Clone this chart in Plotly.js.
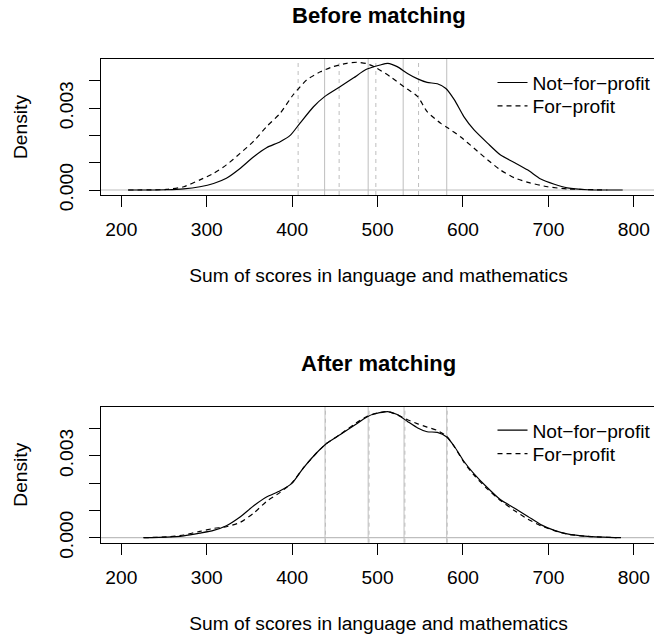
<!DOCTYPE html>
<html>
<head>
<meta charset="utf-8">
<script src="https://cdn.plot.ly/plotly-3.0.1.min.js"></script>
<style>
html,body{margin:0;padding:0;overflow:hidden;background:#fff;}
#chart{width:656px;height:641px;}
</style>
</head>
<body>
<div id="chart"></div>
<script>
// ---- data ----
const seriesNames = ['Not\u2212for\u2212profit', 'For\u2212profit'];
const panelTitles = ['Before matching', 'After matching'];
const xTitle = 'Sum of scores in language and mathematics';
const yTitle = 'Density';
const xTickVals = [200, 300, 400, 500, 600, 700, 800];
const yTickVals = [0, 0.001, 0.002, 0.003, 0.004];
const yTickText = ['0.000', '', '', '0.003', ''];

const beforeNfpX = [208, 253, 273, 292, 308, 323, 339, 355, 370, 386, 398, 409, 425, 438, 456, 472, 487, 503, 512, 523, 535, 547, 558, 570, 580, 590, 601, 613, 629, 644, 660, 676, 691, 707, 722, 746, 787];
const beforeNfpY = [0, 0.00001, 0.00004, 0.00012, 0.00024, 0.00043, 0.00079, 0.00122, 0.00155, 0.00177, 0.00201, 0.00244, 0.00305, 0.00342, 0.00378, 0.00411, 0.00442, 0.00458, 0.00464, 0.00452, 0.00427, 0.00407, 0.00394, 0.00389, 0.00372, 0.0033, 0.00269, 0.0022, 0.00171, 0.00128, 0.00101, 0.00073, 0.0004, 0.00021, 0.00008, 0.00001, 0];

const beforeFpX = [208, 253, 273, 292, 308, 323, 339, 355, 370, 386, 401, 417, 433, 448, 464, 476, 487, 497, 515, 531, 547, 558, 574, 582, 597, 613, 629, 644, 660, 676, 699, 722, 769];
const beforeFpY = [0, 0.00002, 0.00012, 0.00037, 0.00061, 0.00092, 0.00134, 0.00179, 0.00232, 0.00281, 0.00348, 0.00403, 0.00433, 0.00452, 0.00464, 0.00468, 0.00463, 0.0045, 0.00415, 0.00378, 0.00342, 0.00287, 0.00244, 0.00228, 0.00195, 0.00153, 0.0011, 0.00073, 0.00045, 0.00028, 0.00012, 0.00004, 0];

const afterNfpX = [226, 253, 273, 292, 308, 323, 339, 355, 370, 386, 400, 413, 429, 441, 456, 472, 487, 496, 501, 512, 523, 535, 547, 558, 570, 581, 590, 601, 613, 629, 644, 660, 676, 691, 707, 722, 746, 785];
const afterNfpY = [0, 0.00002, 0.00007, 0.00017, 0.00027, 0.00044, 0.00076, 0.00117, 0.00149, 0.00172, 0.002, 0.00255, 0.00312, 0.00347, 0.00377, 0.0041, 0.00441, 0.00454, 0.00457, 0.00462, 0.00451, 0.00426, 0.00402, 0.00388, 0.00386, 0.00369, 0.00334, 0.0028, 0.00234, 0.00182, 0.00139, 0.00109, 0.00078, 0.00048, 0.00027, 0.00014, 0.00005, 0];

const afterFpX = [226, 253, 273, 292, 308, 323, 339, 355, 370, 386, 400, 413, 429, 441, 456, 472, 487, 501, 512, 523, 535, 547, 558, 570, 581, 590, 601, 613, 629, 644, 660, 676, 691, 707, 722, 746, 780];
const afterFpY = [0, 0.00003, 0.0001, 0.00023, 0.00034, 0.0004, 0.00056, 0.0009, 0.00133, 0.00166, 0.00202, 0.00255, 0.00312, 0.00347, 0.00378, 0.00414, 0.00443, 0.00458, 0.00462, 0.0045, 0.00432, 0.00417, 0.00405, 0.00393, 0.00371, 0.00333, 0.00277, 0.00229, 0.00177, 0.00136, 0.001, 0.00068, 0.00044, 0.00026, 0.00013, 0.00005, 0];

const beforeNfpQuant = [438, 489, 530, 581];
const beforeFpQuant = [407, 455, 498, 548];
const afterNfpQuant = [438.5, 489, 531, 581];
const afterFpQuant = [439, 490, 532, 581.5];

// ---- styles ----
const FONT = 'Liberation Sans, Arial, Helvetica, sans-serif';
const FS = 19.2;
const lineSolid = {color: '#000', width: 1.2, dash: 'solid', shape: 'spline', smoothing: 0.6};
const lineDash = {color: '#000', width: 1.2, dash: '5px,4px', shape: 'spline', smoothing: 0.6};

function trace(x, y, name, line, xa, ya, leg) {
  return {x: x, y: y, name: name, type: 'scatter', mode: 'lines', line: line,
          xaxis: xa, yaxis: ya, legend: leg, hoverinfo: 'skip'};
}

const data = [
  trace(beforeNfpX, beforeNfpY, seriesNames[0], lineSolid, 'x', 'y', 'legend'),
  trace(beforeFpX, beforeFpY, seriesNames[1], lineDash, 'x', 'y', 'legend2'),
  trace(afterNfpX, afterNfpY, seriesNames[0], lineSolid, 'x2', 'y2', 'legend3'),
  trace(afterFpX, afterFpY, seriesNames[1], lineDash, 'x2', 'y2', 'legend4')
];

const shapes = [];
function vlines(vals, xref, yref, dash) {
  vals.forEach(v => shapes.push({type: 'line', xref: xref, yref: yref + ' domain', x0: v, x1: v, y0: 0, y1: 1,
    layer: 'below', line: {color: '#BEBEBE', width: 1, dash: dash}}));
}
function hzero(xref, yref) {
  shapes.push({type: 'line', xref: xref + ' domain', yref: yref, x0: 0, x1: 1, y0: 0, y1: 0,
    layer: 'below', line: {color: '#BEBEBE', width: 1.2}});
}
hzero('x', 'y'); hzero('x2', 'y2');
vlines(beforeNfpQuant, 'x', 'y', 'solid');
vlines(beforeFpQuant, 'x', 'y', '4px,4px');
vlines(afterNfpQuant, 'x2', 'y2', 'solid');
vlines(afterFpQuant, 'x2', 'y2', '4px,4px');

const H = 641;
const W = 656;
const ML = 101;
const xRange = [176.2, 826];
const yRange = [-0.000183, 0.0047985];

function xaxis(anchor) {
  return {anchor: anchor, range: xRange, tickvals: xTickVals, ticks: 'outside', ticklen: 11, tickwidth: 1,
    tickcolor: '#000', showline: true, mirror: true, linecolor: '#000', linewidth: 1, showgrid: false,
    zeroline: false, ticklabelstandoff: 6, tickfont: {family: FONT, size: FS, color: '#000'},
    title: {text: xTitle, standoff: 29, font: {family: FONT, size: FS, color: '#000'}}};
}
function yaxis(anchor, d0, d1) {
  return {anchor: anchor, domain: [1 - d1 / H, 1 - d0 / H], range: yRange, tickvals: yTickVals, ticktext: yTickText,
    tickangle: -90, ticks: 'outside', ticklen: 11, tickwidth: 1, tickcolor: '#000', showline: true, mirror: true,
    linecolor: '#000', linewidth: 1, showgrid: false, zeroline: false, ticklabelstandoff: 8,
    tickfont: {family: FONT, size: FS, color: '#000'},
    title: {text: yTitle, standoff: 23, font: {family: FONT, size: FS, color: '#000'}}};
}

function legend(ytop) {
  return {x: (492.5 - ML) / (W - ML), xanchor: 'left', y: 1 - ytop / H, yanchor: 'top',
    bgcolor: 'rgba(0,0,0,0)', borderwidth: 0, font: {family: FONT, size: FS, color: '#000'},
    tracegroupgap: 0, itemclick: false, itemdoubleclick: false};
}

const layout = {
  width: W, height: H,
  margin: {l: ML, r: 0, t: 0, b: 0},
  paper_bgcolor: '#fff', plot_bgcolor: '#fff',
  font: {family: FONT, size: FS, color: '#000'},
  xaxis: xaxis('y'),
  yaxis: yaxis('x', 59, 195),
  xaxis2: xaxis('y2'),
  yaxis2: yaxis('x2', 406.7, 542.7),
  legend: legend(63.5),
  legend2: legend(86.9),
  legend3: legend(411.2),
  legend4: legend(434.6),
  showlegend: true,
  shapes: shapes,
  annotations: [
    {text: '<b>' + panelTitles[0] + '</b>', xref: 'paper', yref: 'paper', x: 0.5, y: 1 - 15.4 / H,
     xanchor: 'center', yanchor: 'middle', showarrow: false, font: {family: FONT, size: 22, color: '#000'}},
    {text: '<b>' + panelTitles[1] + '</b>', xref: 'paper', yref: 'paper', x: 0.5, y: 1 - 363 / H,
     xanchor: 'center', yanchor: 'middle', showarrow: false, font: {family: FONT, size: 22, color: '#000'}}
  ]
};

Plotly.newPlot('chart', data, layout, {staticPlot: true, displayModeBar: false});
</script>
</body>
</html>
